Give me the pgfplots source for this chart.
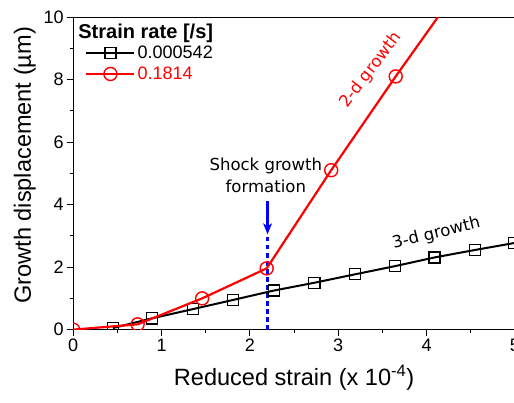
\documentclass[border=0pt]{standalone}
\usepackage{pgfplots}
\pgfplotsset{compat=1.18}
\usepackage{fontspec}
\setmainfont{Liberation Sans}
\newfontfamily\annot{DejaVu Sans}
\definecolor{pureblue}{RGB}{0,0,255}
\begin{document}
\begin{tikzpicture}
\begin{axis}[
  scale only axis, width=441pt, height=312pt,
  xmin=0, xmax=5, ymin=0, ymax=10,
  xtick={0,1,2,3,4,5}, ytick={0,2,4,6,8,10},
  minor x tick num=1, minor y tick num=1,
  tick align=outside, xtick pos=bottom, ytick pos=left,
  axis line style={line width=1pt},
  major tick length=6pt, minor tick length=3.5pt,
  every tick/.style={line width=0.9pt, black},
  ticklabel style={font=\fontsize{18}{18}\selectfont},
  /pgf/number format/assume math mode=true,
  xlabel={Reduced strain (x 10\textsuperscript{-4})},
  ylabel={Growth displacement (µm)},
  label style={font=\fontsize{23.5}{23.5}\selectfont},
  xlabel style={yshift=-6pt},
  ylabel style={yshift=1pt, xshift=8pt},
  clip marker paths=true,
  legend style={at={(0.027,0.915)}, anchor=north west, draw=none, fill=none,
    font=\fontsize{18}{18}\selectfont, row sep=3pt, inner sep=0pt,
    nodes={inner sep=2pt}},
  legend cell align=left,
  legend image code/.code={%
    \draw[mark=none] (0pt,0pt) -- (48pt,0pt);
    \draw plot[only marks] coordinates {(24pt,0pt)};},
]
\addplot[draw=pureblue, line width=2.2pt, dash pattern=on 4.5pt off 3.5pt, forget plot] coordinates {(2.2,0)(2.2,3.0)};
\addplot[black, line width=2pt, mark=square, mark size=5.5pt, mark options={solid, line width=1.2pt, fill=white}]
coordinates {(0.45,0.05)(0.89,0.36)(1.36,0.66)(1.81,0.95)(2.27,1.25)(2.73,1.5)(3.19,1.77)(3.64,2.03)(4.09,2.31)(4.55,2.55)(4.99,2.77)};
\addlegendentry{0.000542}
\addplot[red, line width=2.2pt, mark=o, mark size=6.5pt, mark options={solid, line width=1.4pt, fill=white}]
coordinates {(0,0)(0.73,0.17)(1.46,1.0)(2.19,1.96)(2.92,5.1)(3.65,8.1)(4.38,11.0)};
\addlegendentry{\textcolor{red}{0.1814}}
\draw[draw=pureblue, line width=2.2pt] (axis cs:2.2,4.1) -- (axis cs:2.2,3.3);
\fill[pureblue] (axis cs:2.2,3.05) -- ++(-4.5pt,11pt) -- ++(4.5pt,-3pt) -- ++(4.5pt,3pt) -- cycle;
\node[font=\annot\fontsize{16.5}{22}\selectfont, align=center] at (axis cs:2.18,4.94) {Shock growth\\formation};
\node[font=\annot\fontsize{16.5}{16.5}\selectfont, text=red, rotate=53] at (axis cs:3.37,8.3) {2-d growth};
\node[font=\annot\fontsize{16.5}{16.5}\selectfont, rotate=14] at (axis cs:4.11,3.07) {3-d growth};
\node[anchor=base west, font=\fontsize{20}{20}\selectfont\bfseries, inner sep=0pt] at ([shift={(5pt,-21pt)}]rel axis cs:0,1) {Strain rate [/s]};
\coordinate (sw) at (rel axis cs:0,0);
\coordinate (ne) at (rel axis cs:1,1);
\end{axis}
\pgfresetboundingbox
\path[use as bounding box] ([shift={(-73pt,-73pt)}]sw) rectangle ([shift={(-1pt,17pt)}]ne);
\end{tikzpicture}
\end{document}
